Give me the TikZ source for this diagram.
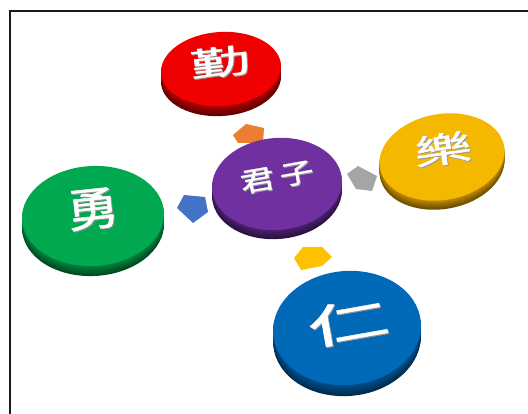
\documentclass[tikz,border=0pt]{standalone}
\usepackage{fontspec}
\newfontfamily\cjk[FakeBold=1]{Noto Sans CJK TC}
\usetikzlibrary{shapes.geometric}
\definecolor{redF}{HTML}{F00000}\definecolor{redS}{HTML}{B00000}
\definecolor{yelF}{HTML}{F5B800}\definecolor{yelS}{HTML}{C48C00}
\definecolor{purF}{HTML}{7030A0}\definecolor{purS}{HTML}{4E2072}
\definecolor{greF}{HTML}{00A84F}\definecolor{greS}{HTML}{00843C}
\definecolor{bluF}{HTML}{0069B8}\definecolor{bluS}{HTML}{00508F}
\definecolor{tagO}{HTML}{ED7D31}\definecolor{tagG}{HTML}{A5A5A5}
\definecolor{tagB}{HTML}{4472C4}\definecolor{tagY}{HTML}{FFC000}
\definecolor{frameC}{HTML}{1A1A1A}
\tikzset{
  diskface/.style={ellipse, inner sep=0pt, outer sep=0pt, draw=none},
  disktext/.style={font=\cjk\fontsize{#1}{#1}\selectfont, inner sep=0pt, text=white},
  diskshadow/.style={font=\cjk\fontsize{#1}{#1}\selectfont, inner sep=0pt, text=black!40},
  tag/.style={draw=none}
}
% name, x, y, width, height, rotation, thickness, face colour, side colour
\newcommand\mydisk[9]{%
  \foreach \k in {#7,...,1}{%
    \pgfmathtruncatemacro\pc{100-45*\k/#7}%
    \node[diskface, minimum width=#4, minimum height=#5, rotate=#6, fill=#9!\pc!black] at (#2,#3+\k) {};
  }
  \node[diskface, minimum width=#4, minimum height=#5, rotate=#6, fill=#8] (#1) at (#2,#3) {};
}
\begin{document}
\begin{tikzpicture}[x=1pt,y=-1pt]
\useasboundingbox (0,0) rectangle (528,414);
\fill[white] (0,0) rectangle (528,414);
\coordinate (fb) at (10,414);
\coordinate (fc) at (10,11);
\coordinate (fr) at (528,11);
\draw[frameC, line width=2pt] (fb) -- (fc) -- (fr);

% arrow tags
\fill[tag, tagO] (233,135) -- (246,124) -- (264,128) -- (263,143) -- (238,143) -- cycle;
\fill[tag, tagG] (347,174) -- (358,166) -- (377,176) -- (372,191) -- (356,189) -- cycle;
\fill[tag, tagB] (177,208) -- (184,195) -- (205,197) -- (208,212) -- (193,223) -- cycle;
\fill[tag, tagY] (294,258) -- (303,247) -- (322,247) -- (332,257) -- (322,266) -- (301,270) -- cycle;

% disks
\mydisk{qin}{221}{69}{120}{74}{4}{10}{redF}{redS}
\mydisk{le}{442}{157}{126}{86}{10}{9}{yelF}{yelS}
\mydisk{jz}{277}{184}{130}{92}{5}{9}{purF}{purS}
\mydisk{yong}{93}{216}{142}{100}{3}{10}{greF}{greS}
\mydisk{ren}{347}{328}{148}{114}{5}{11}{bluF}{bluS}

% labels
\node[diskshadow=60, rotate=6, yscale=0.55] at (221,63) {勤};
\node[disktext=60, rotate=6, yscale=0.55] (tqin) at (220,62) {勤};
\node[diskshadow=58, rotate=8, yscale=0.6] at (444,150) {樂};
\node[disktext=58, rotate=8, yscale=0.6] (tle) at (443,149) {樂};
\node[diskshadow=34, rotate=10, yscale=0.78] at (278,178) {君\hspace{6pt}子};
\node[disktext=34, rotate=10, yscale=0.78] (tjz) at (277,177) {君\hspace{6pt}子};
\node[diskshadow=52, rotate=6, yscale=0.88] at (94,210) {勇};
\node[disktext=52, rotate=6, yscale=0.88] (tyong) at (93,209) {勇};
\node[diskshadow=82, rotate=10, yscale=0.55] at (349,323) {仁};
\node[disktext=82, rotate=10, yscale=0.55] (tren) at (348,322) {仁};
\end{tikzpicture}
\end{document}
